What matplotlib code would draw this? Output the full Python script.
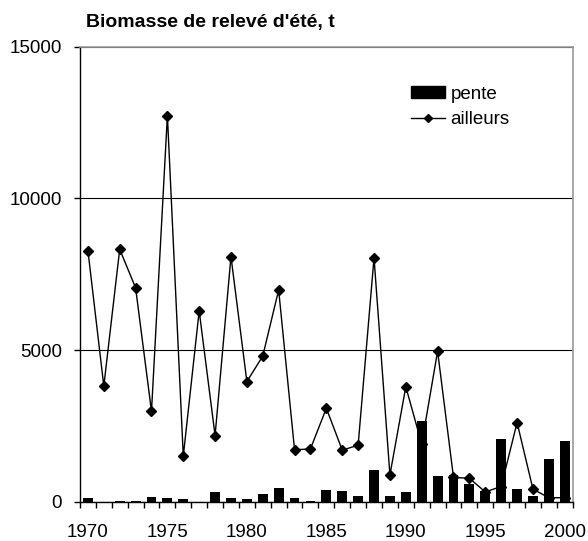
import numpy as np
import matplotlib.pyplot as plt
from matplotlib.patches import Patch
from matplotlib.lines import Line2D

plt.rcParams['font.family'] = ['Liberation Sans', 'DejaVu Sans']

years = list(range(1970, 2001))
# biomass on the slope ("pente") - bars
pente = [120, 0, 30, 30, 150, 120, 80, 0, 320, 120, 80, 265, 460, 120, 30,
         400, 350, 200, 1060, 200, 320, 2670, 860, 890, 585, 350, 2075, 430, 200, 1410, 2000]
# biomass elsewhere ("ailleurs") - line
ailleurs = [8280, 3810, 8320, 7050, 2980, 12730, 1500, 6290, 2180, 8080, 3960, 4800, 6980, 1710, 1740,
            3080, 1700, 1860, 8040, 880, 3790, 1900, 4960, 800, 770, 320, 500, 2610, 410, 130, 130]

x = np.arange(len(years))

fig = plt.figure(figsize=(5.88, 5.41), dpi=100)
ax = fig.add_axes([0.136, 0.0727, 0.838, 0.841])

ax.plot(x, ailleurs, color='black', linewidth=1, marker='D', markersize=5, zorder=2)
ax.bar(x, pente, width=0.62, color='black', zorder=3)

ax.set_xlim(-0.5, len(years) - 0.5)
ax.set_ylim(0, 15000)
ax.set_yticks([0, 5000, 10000, 15000])
ax.set_yticklabels(['0', '5000', '10000', '15000'])
ax.yaxis.grid(True, color='black', linewidth=0.8)
ax.set_axisbelow(True)

# year labels every 5 years, tick marks between categories
major = [i for i, y in enumerate(years) if y % 5 == 0]
ax.set_xticks(major)
ax.set_xticklabels([str(years[i]) for i in major])
ax.set_xticks(np.arange(-0.5, len(years), 1), minor=True)
ax.tick_params(axis='x', which='major', length=0, pad=16, labelsize=13.5)
ax.tick_params(axis='x', which='minor', length=4, width=1, direction='out')
ax.tick_params(axis='y', length=4, width=1, direction='out', labelsize=13.5, pad=9)

for side in ['top', 'right']:
    ax.spines[side].set_color('#999999')
    ax.spines[side].set_linewidth(1.2)
for side in ['left', 'bottom']:
    ax.spines[side].set_color('black')
    ax.spines[side].set_linewidth(1)

handles = [Patch(facecolor='black', edgecolor='black'),
           Line2D([], [], color='black', linewidth=1, marker='D', markersize=4)]
fig.legend(handles, ['pente', 'ailleurs'], loc='upper left',
           bbox_to_anchor=(411 / 588, 1 - 86 / 541), frameon=False, fontsize=13.5,
           borderaxespad=0, borderpad=0,
           handlelength=1.8, handleheight=0.6, handletextpad=0.3, labelspacing=0.45)

fig.text(86 / 588, 1 - 22 / 541, "Biomasse de relevé d'été, t", fontsize=14, fontweight='bold',
         va='center', ha='left')

fig.savefig('out.png', dpi=100)
